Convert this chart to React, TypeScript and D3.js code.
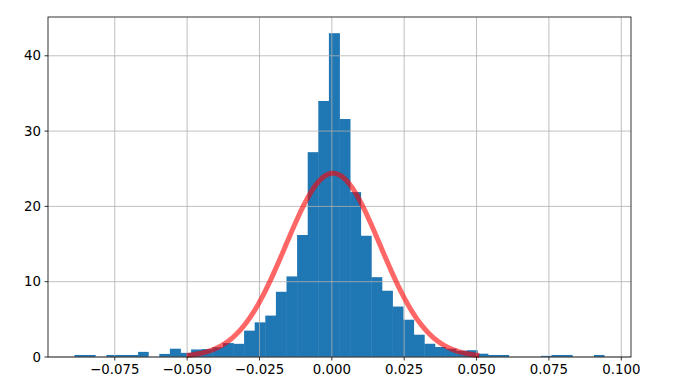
import React from "react";
import * as d3 from "d3";

// Histogram (density): 50 equal bins between binMin and binMax
const binMin = -0.0889;
const binMax = 0.0942;
const density = [
  0.27, 0.27, 0, 0.27, 0.27, 0.27, 0.68, 0, 0.41, 1.1,
  0.55, 1.0, 1.05, 1.3, 1.85, 1.75, 3.5, 4.6, 5.5, 8.66,
  10.7, 16.2, 27.2, 34.0, 43.0, 31.6, 21.9, 16.1, 10.6, 8.8,
  6.7, 4.95, 2.96, 1.76, 1.33, 1.1, 0.83, 0.9, 0.44, 0.27,
  0.27, 0, 0, 0, 0.15, 0.27, 0.27, 0, 0, 0.27,
];

// Fitted normal curve parameters
const fitMean = 0.0004;
const fitSigma = 0.01635;
const fitSpan = 3.09; // curve drawn from ppf(0.001) to ppf(0.999)

const xTicks = [-0.075, -0.05, -0.025, 0, 0.025, 0.05, 0.075, 0.1];
const yTicks = [0, 10, 20, 30, 40];

const W = 673;
const H = 385;
const L = 48, R = 631, T = 17, B = 357;

export default function App() {
  const n = density.length;
  const bw = (binMax - binMin) / n;
  const pad = 0.05 * (binMax - binMin);
  const x = d3.scaleLinear().domain([binMin - pad, binMax + pad]).range([L, R]);
  const yMax = d3.max(density)! * 1.05;
  const y = d3.scaleLinear().domain([0, yMax]).range([B, T]);

  const pdf = (v: number) =>
    Math.exp(-0.5 * ((v - fitMean) / fitSigma) ** 2) / (fitSigma * Math.sqrt(2 * Math.PI));
  const xs = d3.range(0, 201).map(
    (i) => fitMean - fitSpan * fitSigma + (i / 200) * 2 * fitSpan * fitSigma
  );
  const line = d3
    .line<number>()
    .x((v) => x(v))
    .y((v) => y(pdf(v)));

  const fmt = (v: number) => {
    const s = Math.abs(v).toFixed(3);
    return v < 0 ? "\u2212" + s : s;
  };

  return (
    <svg width={W} height={H} style={{ position: "absolute", left: 0, top: 0 }}
      fontFamily="DejaVu Sans" fontSize={13.33}>
      <rect x={0} y={0} width={W} height={H} fill="#fff" />
      <g>
        {density.map((d, i) => {
          const x0 = x(binMin + i * bw);
          const x1 = x(binMin + (i + 1) * bw);
          if (d <= 0) return null;
          const nextFilled = i < n - 1 && density[i + 1] > 0;
          return (
            <rect key={i} x={x0} y={y(d)} width={x1 - x0 + (nextFilled ? 0.4 : 0)}
              height={B - y(d)} fill="#1f77b4" />
          );
        })}
      </g>
      <g stroke="#b0b0b0" strokeWidth={0.8}>
        {xTicks.map((t) => (
          <line key={"gx" + t} x1={x(t)} x2={x(t)} y1={T} y2={B} />
        ))}
        {yTicks.map((t) => (
          <line key={"gy" + t} x1={L} x2={R} y1={y(t)} y2={y(t)} />
        ))}
      </g>
      <path d={line(xs) ?? ""} fill="none" stroke="rgba(255,0,0,0.6)" strokeWidth={5} />
      <rect x={L} y={T} width={R - L} height={B - T} fill="none" stroke="#000" strokeWidth={0.8} />
      <g stroke="#000" strokeWidth={0.8}>
        {xTicks.map((t) => (
          <line key={"tx" + t} x1={x(t)} x2={x(t)} y1={B} y2={B + 3.5} />
        ))}
        {yTicks.map((t) => (
          <line key={"ty" + t} x1={L - 3.5} x2={L} y1={y(t)} y2={y(t)} />
        ))}
      </g>
      <g fill="#000">
        {xTicks.map((t) => (
          <text key={"lx" + t} x={x(t)} y={B + 7} dy="0.76em" textAnchor="middle">
            {fmt(t)}
          </text>
        ))}
        {yTicks.map((t) => (
          <text key={"ly" + t} x={L - 7} y={y(t)} dy="0.35em" textAnchor="end">
            {t}
          </text>
        ))}
      </g>
    </svg>
  );
}
